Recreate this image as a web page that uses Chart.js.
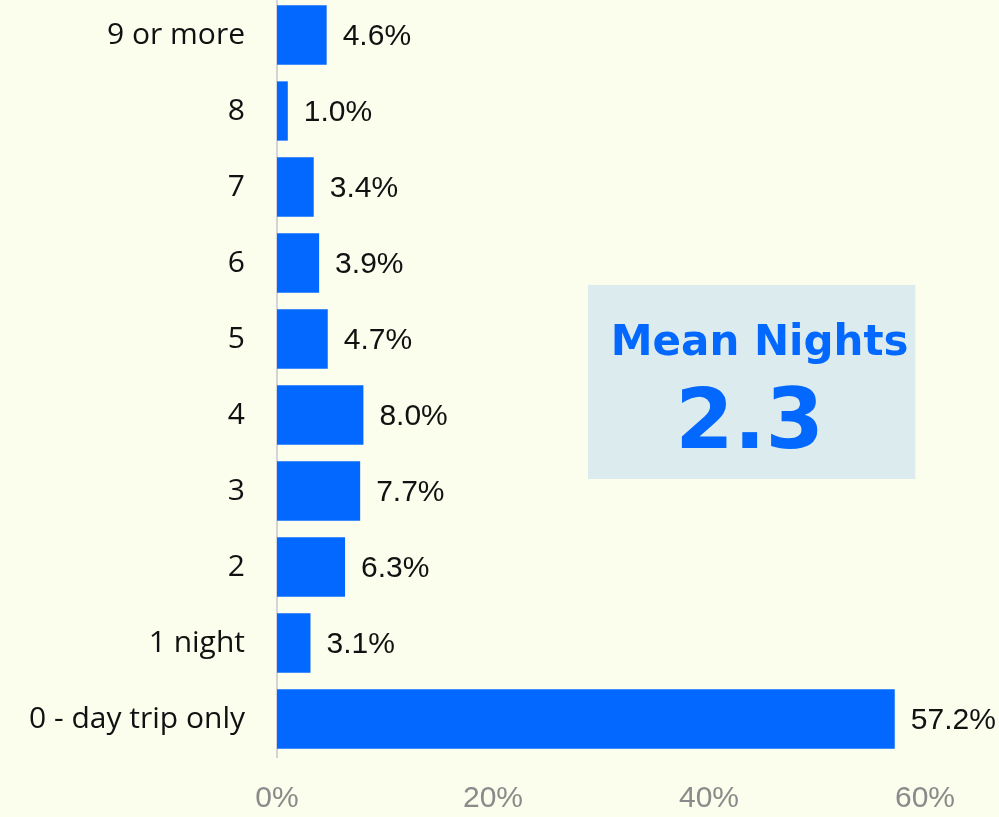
<!DOCTYPE html>
<html>
<head>
<meta charset="utf-8">
<script src="https://cdn.jsdelivr.net/npm/chart.js@4/dist/chart.umd.min.js"></script>
<style>
html,body{margin:0;padding:0;background:#FBFDED;overflow:hidden;}
#wrap{position:absolute;left:0;top:-3px;width:999px;height:820px;}
</style>
</head>
<body>
<div id="wrap"><canvas id="c" width="999" height="820"></canvas></div>
<script>
const categories = ["9 or more","8","7","6","5","4","3","2","1 night","0 - day trip only"];
const shares = [4.6, 1.0, 3.4, 3.9, 4.7, 8.0, 7.7, 6.3, 3.1, 57.2];
const xTicks = [0, 20, 40, 60];
const meanTitle = "Mean Nights";
const meanValue = "2.3";

const BLUE = "#0368FF";

const overlay = {
  id: "overlay",
  beforeDatasetsDraw(chart) {
    const {ctx, scales:{x, y}} = chart;
    const x0 = x.getPixelForValue(28.8), x1 = x.getPixelForValue(59.1);
    const yc = (y.getPixelForValue(4) + y.getPixelForValue(5)) / 2 + 5;
    const h = 194;
    ctx.save();
    ctx.fillStyle = "#DCEBEE";
    ctx.fillRect(x0, yc - h/2, x1 - x0, h);
    ctx.fillStyle = BLUE;
    ctx.textAlign = "center";
    ctx.textBaseline = "alphabetic";
    ctx.font = "bold 42px 'DejaVu Sans'";
    ctx.fillText(meanTitle, (x0 + x1)/2 + 8, yc - 27);
    ctx.font = "bold 84px 'DejaVu Sans'";
    ctx.fillText(meanValue, (x0 + x1)/2 - 2, yc + 66);
    ctx.restore();
  },
  afterDatasetsDraw(chart) {
    const {ctx} = chart;
    const meta = chart.getDatasetMeta(0);
    ctx.save();
    ctx.fillStyle = "#111111";
    ctx.font = "30px 'Liberation Sans'";
    ctx.textAlign = "left";
    ctx.textBaseline = "middle";
    meta.data.forEach((bar, i) => {
      ctx.fillText(shares[i].toFixed(1) + "%", bar.x + 16, bar.y + 2);
    });
    ctx.restore();
  }
};

new Chart(document.getElementById("c"), {
  type: "bar",
  data: {
    labels: categories,
    datasets: [{
      data: shares,
      backgroundColor: BLUE,
      borderWidth: 0,
      barPercentage: 0.78,
      categoryPercentage: 1.0
    }]
  },
  options: {
    indexAxis: "y",
    responsive: false,
    animation: false,
    devicePixelRatio: 1,
    layout: { padding: { left: 0, right: 74, top: 0, bottom: 0 } },
    plugins: { legend: { display: false }, tooltip: { enabled: false } },
    scales: {
      x: {
        min: 0, max: 60,
        afterBuildTicks(axis) { axis.ticks = xTicks.map(v => ({value: v})); },
        afterFit(axis) { axis.height = 60; axis.paddingLeft = 0; axis.paddingRight = 0; },
        grid: { display: false, drawTicks: false },
        border: { display: false },
        ticks: {
          padding: 24,
          color: "#8A8A8A",
          font: { family: "'Liberation Sans'", size: 30 },
          callback: v => v + "%"
        }
      },
      y: {
        afterFit(axis) { axis.width = 277; axis.paddingTop = 0; axis.paddingBottom = 0; },
        grid: { display: false, drawTicks: false },
        border: { display: true, color: "#D4D4D4", width: 2 },
        ticks: {
          padding: 32,
          color: "#111111",
          font: { family: "'Open Sans'", size: 30 }
        }
      }
    }
  },
  plugins: [overlay]
});
</script>
</body>
</html>
